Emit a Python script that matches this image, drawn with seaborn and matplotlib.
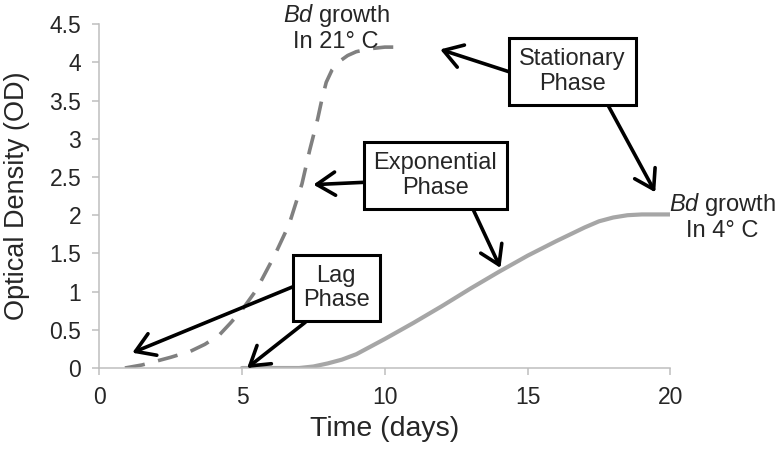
import matplotlib
matplotlib.use("Agg")
import matplotlib.pyplot as plt
import seaborn as sns
import pandas as pd

# Bd growth at 21 C (dashed curve)
days_21 = [0.9, 1.5, 2.5, 3.2, 3.7, 4.2, 4.6, 5.0, 5.5, 6.15, 6.65, 7.1, 7.37, 7.65, 7.8,
           7.95, 8.15, 8.4, 8.7, 9.0, 9.5, 10.0, 10.6]
od_21 = [0.0, 0.04, 0.14, 0.22, 0.31, 0.43, 0.59, 0.76, 1.02, 1.48, 1.88, 2.41, 2.85, 3.26, 3.52,
         3.74, 3.9, 4.01, 4.09, 4.14, 4.18, 4.2, 4.2]

# Bd growth at 4 C (solid curve)
days_4 = [5, 6, 7, 7.5, 8, 8.5, 9, 10, 11, 12, 13, 14, 15, 16, 17, 17.5, 18, 18.5, 19, 20]
od_4 = [0, 0, 0, 0.02, 0.06, 0.11, 0.18, 0.38, 0.59, 0.81, 1.04, 1.26, 1.47, 1.66, 1.84, 1.92,
        1.97, 2.0, 2.01, 2.01]

x_ticks = [0, 5, 10, 15, 20]
y_ticks = [0, 0.5, 1, 1.5, 2, 2.5, 3, 3.5, 4, 4.5]

df_21 = pd.DataFrame({"day": days_21, "od": od_21})
df_4 = pd.DataFrame({"day": days_4, "od": od_4})

sns.set_style("white")
plt.rcParams["font.family"] = ["Liberation Sans", "DejaVu Sans"]
plt.rcParams["mathtext.fontset"] = "custom"
plt.rcParams["mathtext.rm"] = "Liberation Sans"
plt.rcParams["mathtext.it"] = "Liberation Sans:italic"

fig = plt.figure(figsize=(7.75, 4.53), dpi=100)
ax = fig.add_axes([0.128, 0.1876, 0.737, 0.759])

sns.lineplot(data=df_4, x="day", y="od", ax=ax, color="#a6a6a6", lw=3.0)
line = sns.lineplot(data=df_21, x="day", y="od", ax=ax, color="#808080", lw=2.6).lines[-1]
line.set_linestyle((0, (5.6, 3.8)))

ax.set_xlim(0, 20)
ax.set_ylim(0, 4.5)
ax.set_xticks(x_ticks)
ax.set_yticks(y_ticks)
ax.set_xticklabels([f"{v:g}" for v in x_ticks])
ax.set_yticklabels([f"{v:g}" for v in y_ticks])
ax.tick_params(axis="both", labelsize=16.5, direction="out", length=5, width=1.1,
               color="#bebebe", left=True, bottom=True, pad=8)
for side in ["top", "right"]:
    ax.spines[side].set_visible(False)
for side in ["left", "bottom"]:
    ax.spines[side].set_color("#bebebe")
    ax.spines[side].set_linewidth(1.1)

ax.set_xlabel("Time (days)", fontsize=20.5)
ax.set_ylabel("Optical Density (OD)", fontsize=19.5)
ax.xaxis.set_label_coords(0.5, -0.14)
ax.yaxis.set_label_coords(-0.122, 0.5)

# curve labels
ax.text(8.3, 4.46, "$\\it{Bd}$ growth\nIn 21° C", ha="center", va="center",
        fontsize=17, clip_on=False, linespacing=1.1)
ax.text(21.82, 1.98, "$\\it{Bd}$ growth\nIn 4° C", ha="center", va="center",
        fontsize=17, clip_on=False, linespacing=1.1)

box = dict(boxstyle="square,pad=0.42", facecolor="white", edgecolor="black", lw=2.2)
arrow = dict(arrowstyle="->,head_length=0.6,head_width=0.38", color="black",
             lw=2.6, mutation_scale=22, shrinkA=0, shrinkB=0)

# phase boxes: (label, centre, [(start, tip), ...])
phases = [
    ("Stationary\nPhase", (16.57, 3.88), [((14.33, 3.88), (11.94, 4.17)),
                                         ((17.83, 3.43), (19.47, 2.30))]),
    ("Exponential\nPhase", (11.77, 2.52), [((9.25, 2.43), (7.5, 2.40)),
                                          ((13.1, 2.07), (14.05, 1.31))]),
    ("Lag\nPhase", (8.3, 1.05), [((6.76, 1.06), (1.16, 0.20)),
                                 ((7.22, 0.60), (5.18, 0.0))]),
]
for label, centre, arrows in phases:
    for start, tip in arrows:
        ax.annotate("", xy=tip, xytext=start, arrowprops=arrow, annotation_clip=False)
    ax.text(centre[0], centre[1], label, ha="center", va="center", fontsize=17,
            bbox=box, linespacing=1.15, zorder=5)

fig.savefig("out.png", dpi=100)
